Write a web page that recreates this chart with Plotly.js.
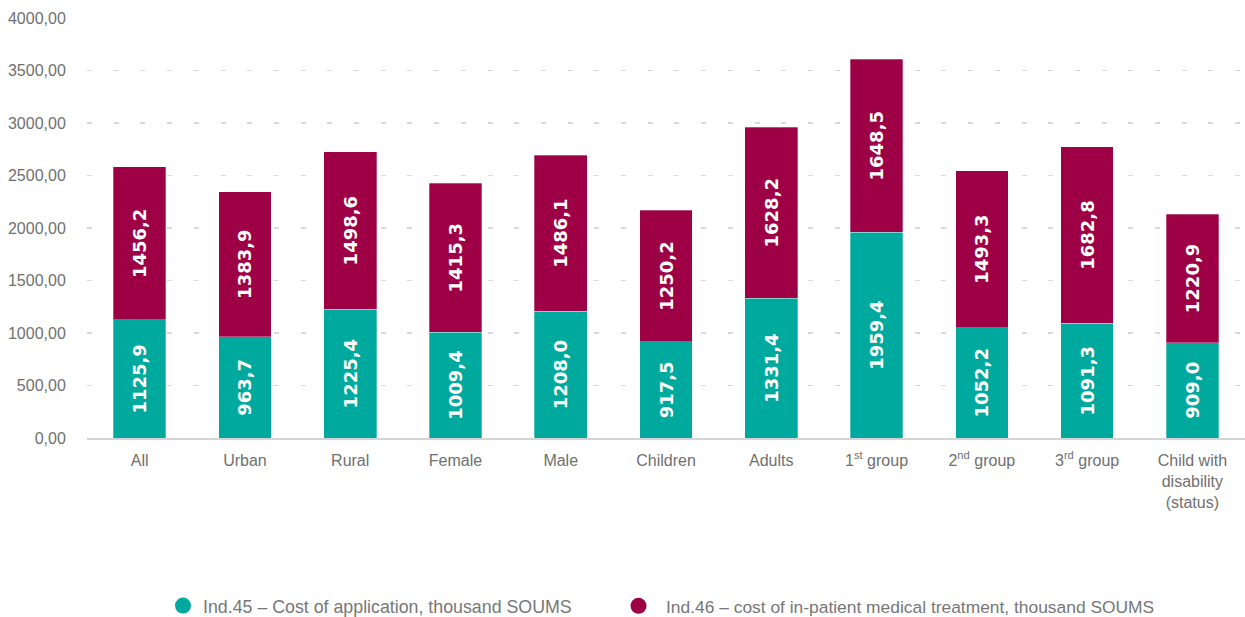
<!DOCTYPE html>
<html>
<head>
<meta charset="utf-8">
<script src="https://cdn.plot.ly/plotly-3.0.1.min.js"></script>
<style>html,body{margin:0;padding:0;background:#fff;}#chart{width:1245px;height:617px;}</style>
</head>
<body>
<div id="chart"></div>
<script>
const categories = ["All", "Urban", "Rural", "Female", "Male", "Children", "Adults",
  "1<sup>st</sup> group", "2<sup>nd</sup> group", "3<sup>rd</sup> group", "Child with<br>disability<br>(status)"];
const applicationCost = [1125.9, 963.7, 1225.4, 1009.4, 1208.0, 917.5, 1331.4, 1959.4, 1052.2, 1091.3, 909.0];
const inpatientCost = [1456.2, 1383.9, 1498.6, 1415.3, 1486.1, 1250.2, 1628.2, 1648.5, 1493.3, 1682.8, 1220.9];
const seriesNames = ["Ind.45 – Cost of application, thousand SOUMS",
  "Ind.46 – cost of in-patient medical treatment, thousand SOUMS"];
const yTicks = [0, 500, 1000, 1500, 2000, 2500, 3000, 3500, 4000];

const teal = "#00a99d";
const maroon = "#9e0045";
const labelFont = {family: "DejaVu Sans, sans-serif", size: 18, color: "#ffffff", weight: "bold"};

const barCommon = {
  type: "bar",
  x: categories,
  texttemplate: "%{y:.1f}",
  textposition: "inside",
  insidetextanchor: "middle",
  textangle: -90,
  textfont: labelFont,
  showlegend: false,
  hoverinfo: "y"
};

const data = [
  Object.assign({}, barCommon, {y: applicationCost, name: seriesNames[0], marker: {color: teal, line: {color: "rgba(255,255,255,0.6)", width: 0.5}}}),
  Object.assign({}, barCommon, {y: inpatientCost, name: seriesNames[1], marker: {color: maroon, line: {color: "rgba(255,255,255,0.6)", width: 0.5}}}),
  {type: "scatter", mode: "markers", x: [null], y: [null], name: seriesNames[0], marker: {color: teal, size: 20, symbol: "circle"}, showlegend: true, legend: "legend"},
  {type: "scatter", mode: "markers", x: [null], y: [null], name: seriesNames[1], marker: {color: maroon, size: 20, symbol: "circle"}, showlegend: true, legend: "legend2"}
];

const legendCommon = {
  orientation: "h",
  xref: "container",
  yref: "container",
  xanchor: "left",
  y: 11 / 617,
  yanchor: "middle",
  font: {size: 17.8, color: "#777777"},
  itemsizing: "trace",
  bgcolor: "rgba(0,0,0,0)"
};

const layout = {
  width: 1245,
  height: 617,
  margin: {l: 87, r: 0, t: 18, b: 179},
  barmode: "stack",
  bargap: 0.5,
  separators: ", ",
  paper_bgcolor: "#ffffff",
  plot_bgcolor: "#ffffff",
  font: {family: "Liberation Sans, Arial, sans-serif", color: "#707070"},
  xaxis: {
    type: "category",
    showline: true,
    linecolor: "#d4d4d4",
    linewidth: 2,
    showgrid: false,
    ticks: "outside",
    ticklen: 7,
    tickcolor: "rgba(0,0,0,0)",
    tickfont: {size: 16, color: "#707070"}
  },
  yaxis: {
    range: [0, 4000],
    tickvals: yTicks,
    tickformat: ".2f",
    showgrid: true,
    gridcolor: "#dadada",
    gridwidth: 1.5,
    griddash: "5px,21.7px",
    zeroline: false,
    showline: false,
    ticks: "outside",
    ticklen: 17,
    tickcolor: "rgba(0,0,0,0)",
    tickfont: {size: 16, color: "#707070"}
  },
  legend: Object.assign({}, legendCommon, {x: 163 / 1245}),
  legend2: Object.assign({}, legendCommon, {x: 611 / 1245, itemwidth: 45, font: {size: 17.4, color: "#777777"}})
};

Plotly.newPlot("chart", data, layout, {displayModeBar: false, staticPlot: true});
</script>
</body>
</html>
